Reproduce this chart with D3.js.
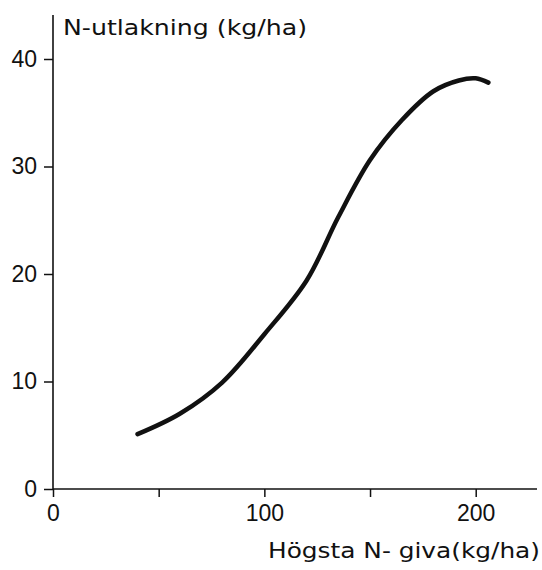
<!DOCTYPE html>
<html>
<head>
<meta charset="utf-8">
<script src="https://cdn.jsdelivr.net/npm/d3@7"></script>
<style>
  html, body { margin: 0; padding: 0; background: #fff; }
</style>
</head>
<body>
<svg id="chart" width="542" height="570"></svg>
<script>
// Highest N application (kg/ha) and resulting N leaching (kg/ha)
const nGiva      = [40, 60, 80, 100, 120, 135, 150, 165, 180, 192, 200, 206];
const nUtlakning = [5.1, 7.0, 9.9, 14.4, 19.4, 25.3, 30.6, 34.3, 37.0, 38.0, 38.2, 37.8];

const xTicks = [0, 50, 100, 150, 200];
const xTickLabels = ["0", "", "100", "", "200"];
const yTicks = [0, 10, 20, 30, 40];
const yTickLabels = ["0", "10", "20", "30", "40"];

const yTitle = "N-utlakning (kg/ha)";
const xTitle = "Högsta N- giva(kg/ha)";

const svg = d3.select("#chart");

const x = d3.scaleLinear().domain([0, 229]).range([53, 537]);
const y = d3.scaleLinear().domain([0, 40]).range([489, 59]);

const ink = "#111";
const tickFont = "Liberation Sans, Arial, sans-serif";

// y axis
const yAxis = svg.append("g")
  .attr("transform", `translate(${x(0)},0)`)
  .call(d3.axisLeft(y).tickValues(yTicks).tickFormat((d, i) => yTickLabels[i]).tickSize(9).tickPadding(7));
yAxis.select(".domain").remove();
yAxis.append("line")
  .attr("x1", 0).attr("x2", 0)
  .attr("y1", y(0)).attr("y2", 15)
  .attr("stroke", ink).attr("stroke-width", 1.6);

// x axis
const xAxis = svg.append("g")
  .attr("transform", `translate(0,${y(0)})`)
  .call(d3.axisBottom(x).tickValues(xTicks).tickFormat((d, i) => xTickLabels[i]).tickSize(8).tickPadding(8));
xAxis.select(".domain").remove();
xAxis.append("line")
  .attr("x1", x(0)).attr("x2", x(229))
  .attr("y1", 0).attr("y2", 0)
  .attr("stroke", ink).attr("stroke-width", 1.6);

svg.selectAll(".tick line").attr("stroke", ink).attr("stroke-width", 1.5);
svg.selectAll(".tick text")
  .attr("fill", ink)
  .style("font-family", tickFont)
  .style("font-size", "23px");

// axis titles
svg.append("text")
  .attr("x", 63).attr("y", 35)
  .attr("fill", ink)
  .style("font-family", "DejaVu Sans, sans-serif")
  .style("font-size", "21px")
  .attr("textLength", 244).attr("lengthAdjust", "spacingAndGlyphs")
  .text(yTitle);

svg.append("text")
  .attr("x", 268).attr("y", 558)
  .attr("fill", ink)
  .style("font-family", "DejaVu Sans, sans-serif")
  .style("font-size", "21px")
  .attr("textLength", 272).attr("lengthAdjust", "spacingAndGlyphs")
  .text(xTitle);

// leaching curve
const line = d3.line()
  .x((d, i) => x(nGiva[i]))
  .y(d => y(d))
  .curve(d3.curveCatmullRom.alpha(0.5));

svg.append("path")
  .datum(nUtlakning)
  .attr("d", line)
  .attr("fill", "none")
  .attr("stroke", ink)
  .attr("stroke-width", 4.5)
  .attr("stroke-linecap", "round");
</script>
</body>
</html>
